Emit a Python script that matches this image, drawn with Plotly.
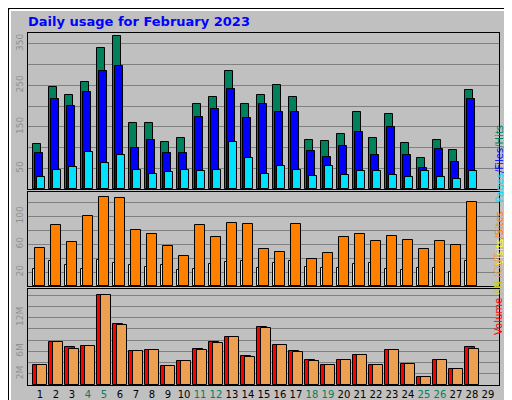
import plotly.graph_objects as go

days = list(range(1, 29))
hits = [108,245,226,257,341,368,158,158,113,122,204,221,284,204,226,250,221,117,115,132,185,122,180,110,74,117,93,238]
files = [86,216,199,233,284,296,98,117,86,86,173,192,240,170,204,185,185,91,76,103,137,83,149,81,50,96,64,216]
pages = [28,45,52,88,62,83,47,35,40,45,43,47,113,74,37,55,45,31,55,33,43,43,33,28,43,28,23,43]
visits = [24,36,30,24,37,33,30,27,30,23,24,31,34,36,26,33,36,27,26,26,31,33,24,23,26,26,20,36]
sites = [54,87,63,101,127,126,80,74,57,43,87,70,90,89,53,49,89,39,47,70,74,64,71,66,53,64,59,121]
vol_in = [3.6,7.6,6.7,7.0,16.1,10.8,6.0,6.3,3.3,4.2,6.4,7.6,8.6,5.1,10.3,7.2,6.0,4.4,3.6,4.5,5.4,3.6,6.3,3.8,1.5,4.5,2.9,6.7]
vol_out = [3.6,7.6,6.5,7.0,16.1,10.6,6.0,6.3,3.3,4.2,6.3,7.4,8.6,4.9,10.1,7.2,5.8,4.2,3.6,4.5,5.4,3.6,6.3,3.8,1.5,4.5,2.9,6.5]
x_labels = [str(d) for d in range(1, 30)]
weekend = {4,5,11,12,18,19,25,26}

GREEN = "#00805c"
line = dict(color="black", width=1)
fig = go.Figure()

def bar(y, color, off, w, xa, ya):
    fig.add_bar(x=days, y=y, marker=dict(color=color, line=line),
                offset=off, width=w, xaxis=xa, yaxis=ya, showlegend=False)

bar(hits, GREEN, -0.42, 0.5, "x", "y")
bar(files, "#0000ff", -0.29, 0.5, "x", "y")
bar(pages, "#00e0ff", -0.17, 0.5, "x", "y")
bar(visits, "#ffff00", -0.42, 0.5, "x2", "y2")
bar(sites, "#ff8000", -0.29, 0.625, "x2", "y2")
bar([v * 1e6 for v in vol_in], "#ff0000", -0.42, 0.625, "x3", "y3")
bar([v * 1e6 for v in vol_out], "#eca050", -0.17, 0.625, "x3", "y3")

xr = [0.25, 29.69]
xd = [20/512, 491/512]
common_x = dict(range=xr, domain=xd, showgrid=False, zeroline=False, automargin=False,
                showline=True, linecolor="black", mirror=True,
                tickvals=list(range(1, 30)), ticks="")
ticktext = [f'<span style="color:{GREEN}">{t}</span>' if int(t) in weekend else t for t in x_labels]
ya_common = dict(showgrid=True, gridcolor="#808080", gridwidth=1, zeroline=False, automargin=False,
                 showline=True, linecolor="black", mirror=True, tickangle=-90,
                 tickfont=dict(size=9, color="#909090", family="DejaVu Sans"), ticks="")

fig.update_layout(
    width=512, height=400, margin=dict(l=0, r=0, t=0, b=0, autoexpand=False),
    paper_bgcolor="#c0c0c0", plot_bgcolor="#c0c0c0", barmode="overlay", bargap=0,
    font=dict(family="DejaVu Sans"),
    xaxis=dict(common_x, anchor="y", showticklabels=False),
    xaxis2=dict(common_x, anchor="y2", showticklabels=False),
    xaxis3=dict(common_x, anchor="y3", ticktext=ticktext, tickangle=0,
                tickfont=dict(size=10, color="black", family="DejaVu Sans")),
    yaxis=dict(ya_common, domain=[0.5475, 0.9375], range=[0, 376], anchor="x",
               tickvals=[50,100,150,200,250,300,350],
               ticktext=["50","","150","","250","","350"]),
    yaxis2=dict(ya_common, domain=[0.305, 0.54], range=[0, 134.7], anchor="x2",
                tickvals=[20,40,60,80,100,120], ticktext=["20","","60","","100",""]),
    yaxis3=dict(ya_common, domain=[0.0575, 0.2975], range=[0, 17.1e6], anchor="x3",
                tickvals=[v*1e6 for v in range(2, 17, 2)],
                ticktext=["2M","","6M","","","12M","",""]),
    title=dict(text="<b>Daily usage for February 2023</b>", x=20/512, xanchor="left",
               y=1-13/400, yanchor="middle",
               font=dict(size=13, color="#0000ff", family="DejaVu Sans")),
    shapes=[
        dict(type="rect", xref="paper", yref="paper", x0=0, x1=1, y0=0, y1=1,
             line=dict(color="black", width=2)),
        dict(type="rect", xref="paper", yref="paper", x0=505/512, x1=511/512,
             y0=1/400, y1=1-6/400, fillcolor="#808080", line_width=0),
        dict(type="rect", xref="paper", yref="paper", x0=6/512, x1=511/512,
             y0=1/400, y1=6/400, fillcolor="#808080", line_width=0),
        dict(type="line", xref="paper", yref="paper", x0=2/512, x1=505/512,
             y0=1-2/400, y1=1-2/400, line=dict(color="white", width=2)),
        dict(type="line", xref="paper", yref="paper", x0=2/512, x1=2/512,
             y0=6/400, y1=1-2/400, line=dict(color="white", width=2)),
    ],
    annotations=[
        dict(xref="paper", yref="paper", x=498/512, y=(0.5475+0.9375)/2 - 0.03, textangle=-90,
             showarrow=False, font=dict(size=10, family="DejaVu Sans"),
             text='<span style="color:#00e0ff">Pages</span><span style="color:#0000ff">/Files</span><span style="color:#00805c">/Hits</span>'),
        dict(xref="paper", yref="paper", x=498/512, y=(0.305+0.54)/2, textangle=-90,
             showarrow=False, font=dict(size=10, family="DejaVu Sans"),
             text='<span style="color:#ffff00">Visits</span><span style="color:#ff8000">/Sites</span>'),
        dict(xref="paper", yref="paper", x=498/512, y=(0.0575+0.2975)/2, textangle=-90,
             showarrow=False, font=dict(size=10, family="DejaVu Sans"),
             text='<span style="color:#ff0000">Volume</span><span style="color:#c8c800"> /IN</span><span style="color:#eca050"> /OUT</span>'),
    ],
)
fig.write_html("out.html")
